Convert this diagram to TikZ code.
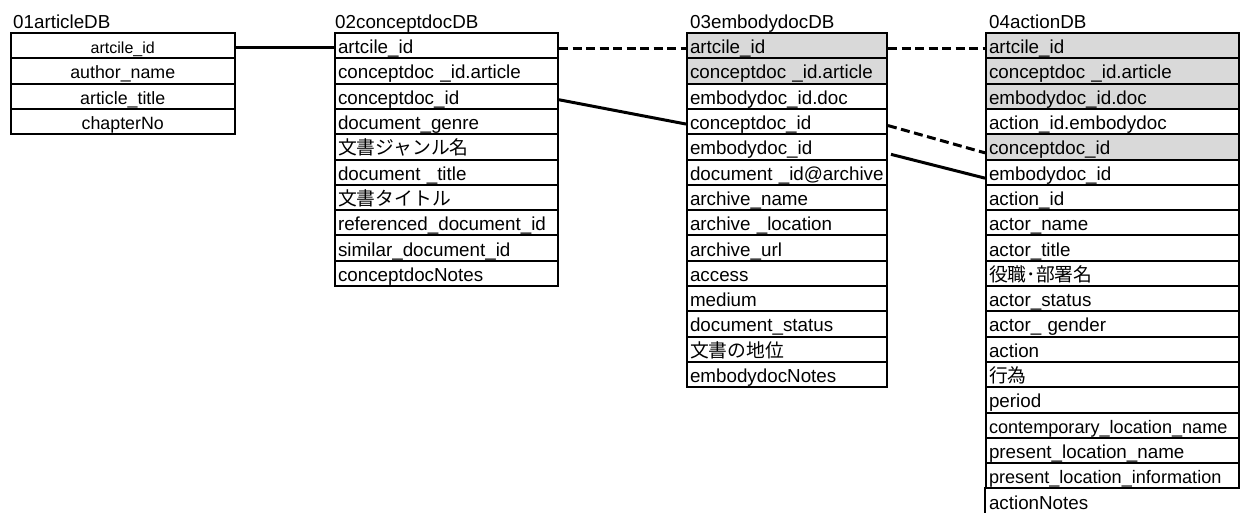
\documentclass[tikz,border=0pt]{standalone}
\usepackage{fontspec}
\setmainfont{Liberation Sans}
\newfontfamily\jp{Noto Sans CJK JP}
\definecolor{keygray}{HTML}{D9D9D9}
\newcommand{\narrowtxt}[1]{{\fontsize{18.1pt}{22pt}\selectfont #1}}
\tikzset{
  cell/.style={draw, line width=2pt, rectangle, anchor=north west,
    minimum height=25.3pt, inner xsep=3pt, inner ysep=0pt,
    text height=18pt, text depth=2pt, align=left,
    font=\fontsize{18.8pt}{22pt}\selectfont},
  cellA/.style={cell, align=center, text width=218.5pt, font=\fontsize{17.8pt}{21pt}\selectfont},
  cellB/.style={cell, text width=217pt},
  cellC/.style={cell, text width=194pt},
  cellD/.style={cell, text width=247pt},
  title/.style={anchor=base west, inner sep=0pt, font=\fontsize{18.8pt}{22pt}\selectfont},
  conn/.style={line width=3pt},
  dconn/.style={line width=3pt, dash pattern=on 9pt off 4.5pt}
}
\begin{document}
\begin{tikzpicture}[x=1pt,y=-1pt]
\useasboundingbox (0,0) rectangle (1240,512);

% titles
\node[title] (h1) at (13,28.5) {01articleDB};
\node[title] (h2) at (335,28.5) {02conceptdocDB};
\node[title] (h3) at (690,28.5) {03embodydocDB};
\node[title] (h4) at (989,28.5) {04actionDB};

% table 1
\node[cellA, font=\fontsize{16pt}{19pt}\selectfont] (t1r1) at (9.5,32) {artcile\_id};
\foreach \t [count=\i from 2] in {author\_name, article\_title, chapterNo}
  \node[cellA] (t1r\i) at (9.5,{32+(\i-1)*25.3}) {\t};

% table 2
\foreach \t [count=\i] in {artcile\_id, conceptdoc \_id.article, conceptdoc\_id,
    document\_genre, {\jp 文書ジャンル名}, document \_title, {\jp 文書タイトル},
    referenced\_document\_id, similar\_document\_id, conceptdocNotes}
  \node[cellB] (t2r\i) at (334,{32+(\i-1)*25.3}) {\t};

% table 3
\foreach \t/\f [count=\i] in {artcile\_id/keygray, conceptdoc \_id.article/keygray,
    embodydoc\_id.doc/white, conceptdoc\_id/white, embodydoc\_id/white,
    document \_id@archive/white, archive\_name/white, archive \_location/white,
    archive\_url/white, access/white, medium/white, document\_status/white,
    {\jp 文書の地位}/white, embodydocNotes/white}
  \node[cellC, fill=\f] (t3r\i) at (686,{32+(\i-1)*25.3}) {\t};

% table 4
\foreach \t/\f [count=\i] in {artcile\_id/keygray, conceptdoc \_id.article/keygray,
    embodydoc\_id.doc/keygray, action\_id.embodydoc/white, conceptdoc\_id/keygray,
    embodydoc\_id/white, action\_id/white, actor\_name/white, actor\_title/white,
    {\jp 役職･部署名}/white, actor\_status/white, actor\_ gender/white, action/white,
    {\jp 行為}/white, period/white, {\narrowtxt{contemporary\_location\_name}}/white,
    present\_location\_name/white, {\narrowtxt{present\_location\_information}}/white}
  \node[cellD, fill=\f] (t4r\i) at (985,{32+(\i-1)*25.3}) {\t};
\node[cellD, draw=none] (t4r19) at (985,{32+18*25.3}) {actionNotes};
\draw[line width=2pt] (t4r19.north west) -- (t4r19.south west);

% connectors
\draw[conn] ([yshift=-2pt]t1r1.east) -- ([yshift=-2pt]t2r1.west);
\draw[dconn] ([yshift=-3pt]t2r1.east) -- ([yshift=-3pt]t3r1.west);
\draw[conn] ([yshift=-3.5pt]t2r3.east) -- ([yshift=-2.5pt]t3r4.west);
\draw[dconn] ([yshift=-3pt]t3r1.east) -- ([yshift=-3pt]t4r1.west);
\draw[dconn] ([yshift=-4pt]t3r4.east) -- ([yshift=-6pt]t4r5.west);
\draw[conn] ([xshift=3pt,yshift=-7.5pt]t3r5.east) -- ([yshift=-6pt]t4r6.west);
\end{tikzpicture}
\end{document}
